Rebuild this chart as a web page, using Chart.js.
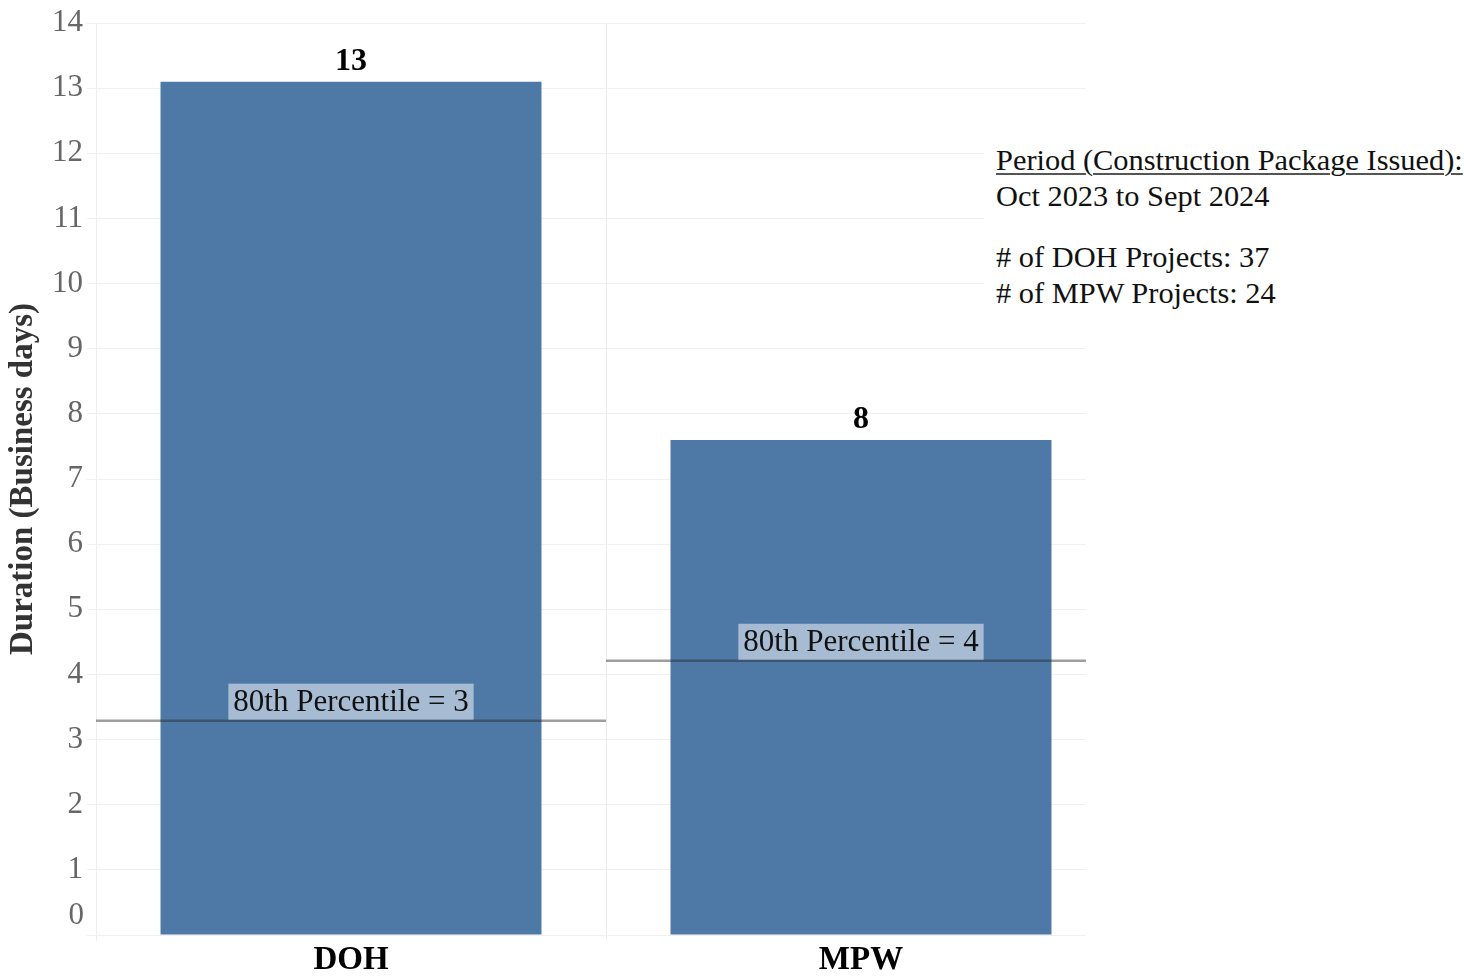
<!DOCTYPE html>
<html>
<head>
<meta charset="utf-8">
<script src="https://cdn.jsdelivr.net/npm/chart.js@4/dist/chart.umd.min.js"></script>
<style>
  html, body { margin: 0; padding: 0; background: #fff; }
  #wrap { position: relative; width: 1464px; height: 979px; }
  #info { position: absolute; left: 984px; top: 142px; width: 480px; background: #fff;
          font-family: "Times New Roman", "Liberation Serif", serif; font-size: 30.4px; color: #111;
          line-height: 36px; padding-left: 12px; white-space: nowrap; }
  #info u { text-decoration-thickness: 2px; text-underline-offset: 3px; text-decoration-color: #555; }
</style>
</head>
<body>
<div id="wrap">
  <canvas id="c" width="1464" height="979"></canvas>
  <div id="info">
    <div><u>Period (Construction Package Issued):</u></div>
    <div>Oct 2023 to Sept 2024</div>
    <div style="height:25px"></div>
    <div># of DOH Projects: 37</div>
    <div># of MPW Projects: 24</div>
  </div>
</div>
<script>
const categories = ["DOH", "MPW"];
const durations = [13.1, 7.6];
const percentile80 = [3.29, 4.21];
const yTicks = [0, 1, 2, 3, 4, 5, 6, 7, 8, 9, 10, 11, 12, 13, 14];

const SERIF = '"Times New Roman", "Liberation Serif", serif';

const overlayPlugin = {
  id: 'overlay',
  beforeDatasetsDraw(chart) {
    const { ctx, chartArea } = chart;
    ctx.save();
    ctx.fillStyle = '#fff';
    ctx.fillRect(chartArea.right - 30, chartArea.top - 2, 32, chartArea.bottom - chartArea.top + 12);
    ctx.restore();
  },
  afterDatasetsDraw(chart) {
    const { ctx, chartArea, scales } = chart;
    const x = scales.x, y = scales.y;
    const meta = chart.getDatasetMeta(0);
    ctx.save();
    ctx.font = 'bold 32px ' + SERIF;
    ctx.fillStyle = '#000';
    ctx.textAlign = 'center';
    ctx.textBaseline = 'alphabetic';
    meta.data.forEach((bar, i) => {
      ctx.fillText(String(Math.round(durations[i])), bar.x, bar.y - 12);
    });
    const n = categories.length;
    const paneW = (x.getPixelForValue(1) - x.getPixelForValue(0));
    percentile80.forEach((p, i) => {
      const cx = x.getPixelForValue(i);
      let left = cx - paneW / 2, right = cx + paneW / 2;
      if (i === 0) left = chartArea.left;
      if (i === n - 1) right = chartArea.right - 30;
      const py = y.getPixelForValue(p);
      ctx.strokeStyle = 'rgba(40,40,40,0.45)';
      ctx.lineWidth = 2.5;
      ctx.beginPath();
      ctx.moveTo(left, py);
      ctx.lineTo(right, py);
      ctx.stroke();
      const txt = '80th Percentile = ' + Math.round(p);
      ctx.font = '31px ' + SERIF;
      const tw = ctx.measureText(txt).width;
      const bw = tw + 10, bh = 36;
      ctx.fillStyle = 'rgba(255,255,255,0.5)';
      ctx.fillRect(cx - bw / 2, py - bh - 1, bw, bh);
      ctx.fillStyle = '#111';
      ctx.textAlign = 'center';
      ctx.textBaseline = 'middle';
      ctx.fillText(txt, cx, py - bh / 2);
    });
    ctx.font = '31px ' + SERIF;
    ctx.fillStyle = '#666';
    ctx.textAlign = 'right';
    ctx.textBaseline = 'middle';
    ctx.fillText('0', chartArea.left - 12, y.getPixelForValue(0) - 19);
    ctx.restore();
  }
};

new Chart(document.getElementById('c'), {
  type: 'bar',
  data: {
    labels: categories,
    datasets: [{
      data: durations,
      backgroundColor: '#4e79a7',
      borderWidth: 0,
      barPercentage: 0.747,
      categoryPercentage: 1.0
    }]
  },
  options: {
    responsive: false,
    animation: false,
    devicePixelRatio: 1,
    layout: { padding: { top: 23, right: 348, bottom: 0, left: 4 } },
    plugins: { legend: { display: false }, tooltip: { enabled: false } },
    scales: {
      x: {
        offset: true,
        grid: { offset: true, color: '#ececec', lineWidth: 1, drawTicks: true, tickLength: 6 },
        border: { display: false },
        ticks: { color: '#000', font: { family: SERIF, size: 33, weight: 'bold' }, padding: 0 },
        afterFit(s) { s.height = 44; }
      },
      y: {
        min: 0, max: 14,
        afterBuildTicks(s) { s.ticks = yTicks.map(v => ({ value: v })); },
        grid: { color: '#f0f0f0', lineWidth: 1, tickLength: 9 },
        border: { display: true, color: '#efefef' },
        ticks: {
          color: '#666',
          font: { family: SERIF, size: 31 },
          padding: 4,
          callback: v => v === 0 ? '' : String(v)
        },
        title: {
          display: true,
          text: 'Duration (Business days)',
          color: '#333',
          font: { family: SERIF, size: 33, weight: 'bold' },
          padding: { top: 0, bottom: 0 }
        },
        afterFit(s) { s.width = 92; }
      }
    }
  },
  plugins: [overlayPlugin]
});
</script>
</body>
</html>
